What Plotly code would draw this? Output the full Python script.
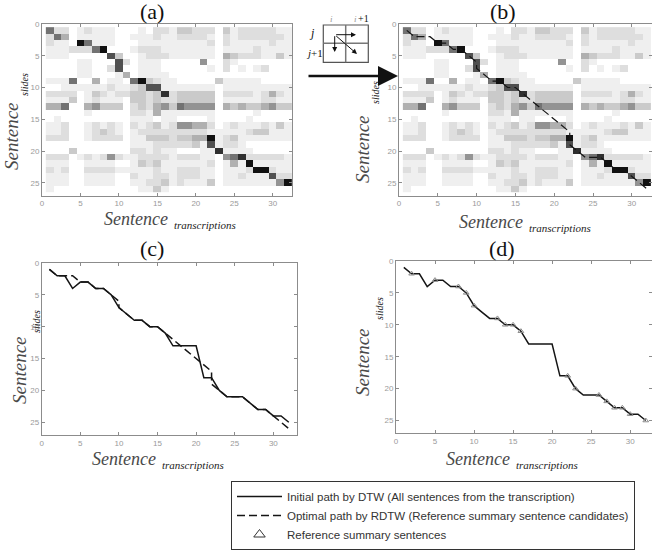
import plotly.graph_objects as go

W, H = 652, 554

# ---------------- data ----------------
# similarity matrix (grey level 0 = white ... 9 = black), rows = slide sentences 1..26, cols = transcription sentences 1..32
sim_rows = [
    [6,2,2,0,1,2,1,1,1,0,0,0,1,0,2,2,1,3,3,2,2,2,0,3,1,2,2,2,2,2,1,1],
    [2,6,4,0,1,1,1,1,1,0,0,1,1,1,2,1,1,2,2,2,2,1,0,2,1,2,2,2,2,2,2,1],
    [2,1,1,0,9,6,1,1,1,0,0,0,1,1,1,1,1,1,1,1,1,2,0,2,1,1,1,1,1,2,1,1],
    [1,1,1,2,2,2,6,9,0,0,0,1,2,2,2,1,1,1,1,1,1,1,0,1,1,1,1,2,1,1,1,1],
    [1,1,1,0,0,0,0,0,7,3,0,0,1,2,2,2,1,1,1,1,1,1,0,4,3,2,2,2,1,1,3,1],
    [0,0,0,0,1,1,0,0,0,7,2,0,1,1,1,0,0,0,0,0,5,0,0,2,1,0,0,0,0,0,0,0],
    [0,0,0,0,1,1,0,0,2,7,0,0,1,1,1,0,0,0,0,0,0,1,0,2,0,1,0,1,2,0,0,0],
    [0,0,0,0,1,1,0,0,0,1,4,0,1,1,1,1,0,0,0,0,0,0,0,0,0,0,0,0,0,0,0,0],
    [1,1,1,6,0,0,4,0,1,1,0,6,9,3,2,1,1,0,0,0,0,0,3,1,1,1,1,1,0,0,0,0],
    [0,0,1,1,1,1,1,1,2,1,1,2,3,7,7,1,1,1,1,1,1,1,0,1,1,1,1,1,1,1,1,1],
    [2,2,2,2,0,1,3,2,1,2,2,3,3,2,3,8,2,3,3,3,3,3,0,2,2,2,2,1,2,4,2,1],
    [1,1,1,3,0,1,2,1,1,1,0,3,3,2,3,2,2,3,3,3,3,3,0,1,1,1,1,1,2,2,1,1],
    [4,4,6,0,0,4,5,3,3,3,0,2,3,2,4,5,3,6,5,5,5,5,0,4,3,4,3,3,4,5,3,3],
    [0,0,0,0,0,1,0,0,0,0,0,2,2,1,4,1,1,1,1,1,1,1,0,0,0,0,0,1,0,0,0,0],
    [0,1,0,0,0,0,0,0,0,0,0,1,1,1,0,1,1,0,0,0,0,1,0,0,0,0,1,0,0,0,0,0],
    [1,1,2,0,0,1,2,1,2,1,0,2,1,2,3,1,2,5,5,4,4,2,0,1,2,1,1,1,2,1,3,1],
    [1,1,2,0,0,1,2,3,2,1,0,1,2,2,2,2,2,2,2,2,2,1,1,1,1,1,2,3,3,1,1,1],
    [2,2,2,0,0,1,2,2,2,2,0,1,1,3,3,3,2,3,3,4,4,9,1,2,3,1,1,1,1,1,1,1],
    [0,0,0,0,0,0,0,0,0,0,0,1,1,1,2,2,2,2,2,3,1,7,1,2,2,1,0,0,0,0,0,0],
    [0,0,0,3,0,0,0,0,0,0,0,2,2,1,2,1,1,0,0,0,1,1,8,1,1,1,1,0,0,0,0,0],
    [2,2,2,0,1,2,1,2,5,2,1,1,2,2,2,2,1,2,2,2,1,1,0,5,6,8,2,2,2,2,2,1],
    [1,1,1,0,0,1,1,1,1,0,0,1,3,2,3,1,1,1,1,1,1,2,0,1,4,1,9,1,1,1,1,1],
    [2,1,2,0,0,2,2,2,2,1,1,1,1,1,2,1,1,2,2,2,1,1,0,1,1,1,2,9,9,2,1,1],
    [1,1,1,0,0,1,1,1,1,0,0,2,1,1,2,2,1,2,2,2,1,1,0,1,1,2,1,1,1,7,2,2],
    [1,1,1,0,0,1,1,1,1,0,0,1,1,2,2,3,1,2,1,1,1,3,0,1,1,1,1,1,1,1,5,9],
    [1,0,0,0,0,0,0,0,0,0,0,0,1,1,3,1,0,0,0,0,0,0,0,0,0,0,0,0,0,0,0,0],
]
trans_idx = list(range(1, 33))
slide_idx = list(range(1, 27))

# DTW path (all transcription sentences)
dtw_x = list(range(1, 33))
dtw_y = [1,2,2,4,3,3,4,4,5,7,8,9,9,10,10,11,13,13,13,13,18,18,20,21,21,21,22,23,23,24,24,25]

# RDTW optimal path
rdtw_x = [1,2,3,4,5,6,7,8,9,10,10,11,12,13,14,15,16,22,22,23,24,25,26,27,28,29,30,31,32]
rdtw_y = [1,2,2,2,3,3,4,4,5,6,7,8,9,9,10,10,11,17,19,20,21,21,21,22,23,23,24,25,26]

# reference summary sentences
ref_x = [2,5,8,9,10,13,14,15,16,22,23,26,27,28,29,30,32]
ref_y = [2,3,4,5,7,9,10,10,11,18,20,21,22,23,23,24,25]

x_ticks = [0, 5, 10, 15, 20, 25, 30]
y_ticks = [0, 5, 10, 15, 20, 25]

names = ["Initial path by DTW (All sentences from the transcription)",
         "Optimal path by RDTW (Reference summary sentence candidates)",
         "Reference summary sentences"]

# ---------------- helpers ----------------
def PX(px):
    return px / W

def PY(py):
    return 1 - py / H

greys = ["#ffffff", "#efefef", "#dedede", "#cacaca", "#b0b0b0",
         "#939393", "#727272", "#505050", "#303030", "#111111"]
cscale = [[i / 9, g] for i, g in enumerate(greys)]

DASH = "8px,4px"
LINEC = "#151515"

fig = go.Figure()

for xa, ya in [("x", "y"), ("x2", "y2")]:
    fig.add_trace(go.Heatmap(z=sim_rows, x=trans_idx, y=slide_idx, colorscale=cscale,
                             zmin=0, zmax=9, showscale=False, xaxis=xa, yaxis=ya,
                             hoverinfo="skip", showlegend=False))

# (b) optimal path over heat map
fig.add_trace(go.Scatter(x=rdtw_x, y=rdtw_y, mode="lines", xaxis="x2", yaxis="y2",
                         line=dict(color=LINEC, width=1.2, dash=DASH), showlegend=False))

# (c)
fig.add_trace(go.Scatter(x=dtw_x, y=dtw_y, mode="lines", xaxis="x3", yaxis="y3",
                         line=dict(color=LINEC, width=1.5), name=names[0]))
fig.add_trace(go.Scatter(x=rdtw_x, y=rdtw_y, mode="lines", xaxis="x3", yaxis="y3",
                         line=dict(color=LINEC, width=1.5, dash=DASH), name=names[1]))

# (d)
fig.add_trace(go.Scatter(x=dtw_x, y=dtw_y, mode="lines", xaxis="x4", yaxis="y4",
                         line=dict(color=LINEC, width=1.5), showlegend=False))
fig.add_trace(go.Scatter(x=ref_x, y=ref_y, mode="markers", xaxis="x4", yaxis="y4",
                         marker=dict(symbol="triangle-up-open", size=5, color="#8a8a8a",
                                     line=dict(width=1, color="#8a8a8a")),
                         showlegend=False))
fig.add_trace(go.Scatter(x=[None], y=[None], mode="markers", xaxis="x4", yaxis="y4",
                         marker=dict(symbol="triangle-up-open", size=10, color="#333",
                                     line=dict(width=1, color="#333")),
                         name=names[2]))

axis_common = dict(showline=True, linecolor="#8c8c8c", linewidth=1, mirror="ticks",
                   ticks="inside", ticklen=3, tickcolor="#8c8c8c", showgrid=False,
                   zeroline=False, tickfont=dict(family="Liberation Sans", size=8, color="#9a9a9a"),
                   fixedrange=True, automargin=False)

panels = {
    "": dict(xd=(42, 292), yd=(24, 195.5), xr=32.5),
    "2": dict(xd=(399, 652), yd=(24, 195.5), xr=32.6),
    "3": dict(xd=(41.7, 296.5), yd=(263, 435), xr=33),
    "4": dict(xd=(396, 652), yd=(261, 433.3), xr=32.8),
}
lay = {}
for k, p in panels.items():
    lay["xaxis" + k] = dict(axis_common, domain=[PX(p["xd"][0]), PX(p["xd"][1])],
                            range=[0, p["xr"]], tickvals=x_ticks,
                            anchor="y" + k)
    lay["yaxis" + k] = dict(axis_common, domain=[PY(p["yd"][1]), PY(p["yd"][0])],
                            range=[27, 0], tickvals=y_ticks,
                            anchor="x" + k)

ann = []
SERIF = "Liberation Serif"

def txt(text, px, py, size, xanchor="center", yanchor="middle", angle=0, color="#222", fam=SERIF):
    ann.append(dict(text=text, x=PX(px), y=PY(py), xref="paper", yref="paper",
                    xanchor=xanchor, yanchor=yanchor, showarrow=False, textangle=angle,
                    borderpad=0,
                    font=dict(family=fam, size=size, color=color)))

# panel titles
for lab, cx, cy in [("(a)", 152, 12), ("(b)", 503, 12), ("(c)", 152, 249), ("(d)", 502, 249)]:
    txt(lab, cx, cy, 22, color="#111")

# x axis titles
for rx, cy in [(169, 219), (524, 222), (157, 459), (511, 459)]:
    txt("<i>Sentence</i>", rx, cy, 18, xanchor="right", color="#4a4a4a")
    txt("<i>transcriptions</i>", rx + 4, cy + 6, 11, xanchor="left", color="#222")

# y axis titles
for sx, sy, bx, by in [(12, 136, 25, 85), (362, 149, 376, 93), (19, 370, 36, 322), (362, 362, 379, 309)]:
    txt("<i>Sentence</i>", sx, sy, 19, angle=-90, color="#4a4a4a")
    txt("<i>slides</i>", bx, by, 10, angle=-90, color="#222")

# inset DTW step diagram
shapes = []
gx0, gx1, gy0, gy1 = 323.3, 368.3, 25, 62.3
gxm, gym = 345.7, 43.3
shapes.append(dict(type="rect", xref="paper", yref="paper", x0=PX(gx0), x1=PX(gx1),
                   y0=PY(gy1), y1=PY(gy0), line=dict(color="#555", width=1.2)))
shapes.append(dict(type="line", xref="paper", yref="paper", x0=PX(gxm), x1=PX(gxm),
                   y0=PY(gy1), y1=PY(gy0), line=dict(color="#777", width=1.5)))
shapes.append(dict(type="line", xref="paper", yref="paper", x0=PX(gx0), x1=PX(gx1),
                   y0=PY(gym), y1=PY(gym), line=dict(color="#777", width=1.5)))

def arrow(hx, hy, tx, ty, width=1, size=1, head=2):
    ann.append(dict(text="", x=PX(hx), y=PY(hy), xref="paper", yref="paper",
                    ax=tx - hx, ay=ty - hy, axref="pixel", ayref="pixel",
                    showarrow=True, arrowhead=head, arrowsize=size, arrowwidth=width,
                    arrowcolor="#111"))

arrow(356, 34.7, 334.7, 34.7)
arrow(334.7, 52, 334.7, 34.7)
arrow(357, 54, 334.7, 34.7)
arrow(398, 76, 307, 76, width=2.5, size=1.6, head=2)

txt("<i>i</i>", 332, 19, 9, color="#999")
txt("<i>i</i>", 355, 19, 9, color="#999")
txt("+1", 363, 18.5, 10, color="#111")
txt("<i>j</i>", 312, 33, 12, color="#111")
txt("<i>j</i>+1", 314, 53, 11, color="#111")

fig.update_layout(
    width=W, height=H, margin=dict(l=0, r=0, t=0, b=0, autoexpand=False),
    paper_bgcolor="white", plot_bgcolor="white",
    annotations=ann, shapes=shapes,
    legend=dict(x=PX(231), y=PY(481), xanchor="left", yanchor="top",
                bgcolor="white", bordercolor="#333", borderwidth=1,
                font=dict(family="Liberation Sans", size=11.5, color="#333"),
                tracegroupgap=0, itemwidth=45, traceorder="normal"),
    **lay,
)

fig.write_html("out.html", config={"displayModeBar": False},
               post_script="document.body.style.margin='0px';document.body.style.overflow='hidden';")
